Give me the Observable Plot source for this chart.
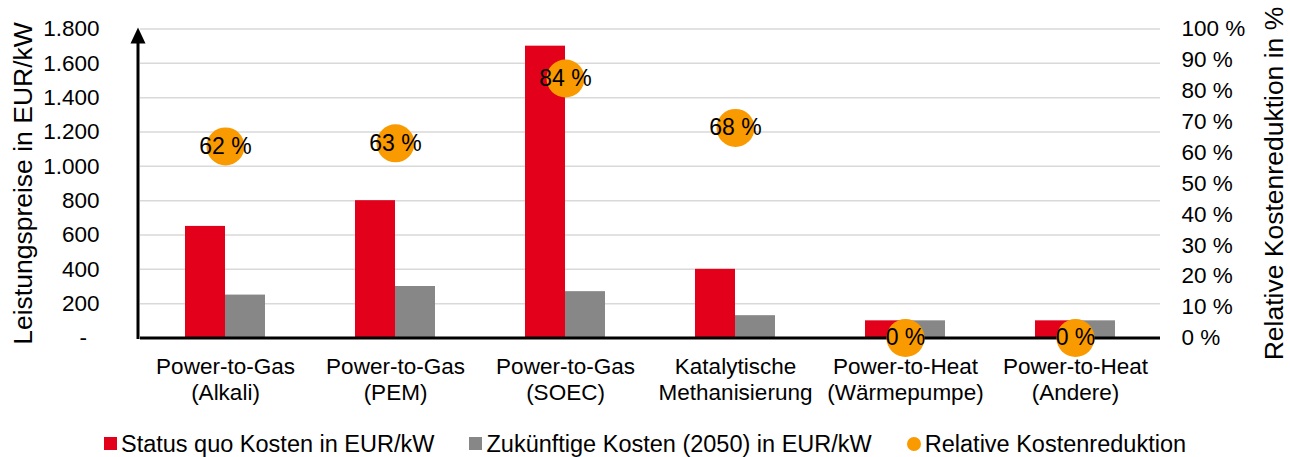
<!DOCTYPE html>
<html>
<head>
<meta charset="utf-8">
<script src="https://cdn.jsdelivr.net/npm/d3@7"></script>
<script src="https://cdn.jsdelivr.net/npm/@observablehq/plot@0.6"></script>
<style>
  body { margin: 0; background: #fff; font-family: "Liberation Sans", Arial, sans-serif; }
  #legend { display: flex; justify-content: center; align-items: center; gap: 35px;
    height: 37px; padding-top: 10px; box-sizing: border-box; font-size: 23.5px; line-height: 24px; color: #000; }
  #legend .item { display: flex; align-items: center; }
  #legend .sw { width: 13px; height: 13px; margin-right: 4px; }
  #legend .dot { width: 14px; height: 14px; border-radius: 50%; margin-right: 4px; }
</style>
</head>
<body>
<div id="chart"></div>
<div id="legend"></div>
<script>
const categories = [
  "Power-to-Gas\n(Alkali)",
  "Power-to-Gas\n(PEM)",
  "Power-to-Gas\n(SOEC)",
  "Katalytische\nMethanisierung",
  "Power-to-Heat\n(Wärmepumpe)",
  "Power-to-Heat\n(Andere)"
];
const statusQuo = [650, 800, 1700, 400, 100, 100];
const future2050 = [250, 300, 270, 130, 100, 100];
const reduction = [62, 63, 84, 68, 0, 0];
const seriesNames = ["Status quo Kosten in EUR/kW", "Zukünftige Kosten (2050) in EUR/kW", "Relative Kostenreduktion"];
const seriesColors = ["#e2001a", "#878787", "#f99a00"];
const leftTicks = [0, 200, 400, 600, 800, 1000, 1200, 1400, 1600, 1800];
const rightTicks = [0, 10, 20, 30, 40, 50, 60, 70, 80, 90, 100];
const leftMax = 1800, rightMax = 100;
const k = leftMax / rightMax;

const bars = [];
categories.forEach((c, i) => {
  bars.push({cat: c, series: seriesNames[0], value: statusQuo[i]});
  bars.push({cat: c, series: seriesNames[1], value: future2050[i]});
});
const dots = categories.map((c, i) => ({cat: c, pct: reduction[i]}));

const fmtDE = d => d === 0 ? "-\u00a0\u00a0" : d3.format(",")(d).replace(/,/g, ".");

const plot = Plot.plot({
  width: 1290,
  height: 420,
  marginLeft: 138,
  marginRight: 128,
  marginTop: 28.5,
  marginBottom: 82.5,
  style: {fontFamily: "'Liberation Sans', Arial, sans-serif", fontSize: "22.5px", color: "#000", background: "#fff"},
  fx: {domain: categories, padding: 0, label: null},
  x: {domain: seriesNames.slice(0, 2), paddingInner: 0, paddingOuter: 1.08, axis: null},
  y: {domain: [0, leftMax], axis: null},
  color: {domain: seriesNames, range: seriesColors},
  marks: [
    Plot.gridY(leftTicks, {stroke: "#d9d9d9", strokeOpacity: 1, strokeWidth: 1.5}),
    Plot.barY(bars, {fx: "cat", x: "series", y: "value", fill: "series"}),
    Plot.ruleY([0], {stroke: "#000", strokeWidth: 3}),
    Plot.dot(dots, {fx: "cat", y: d => d.pct * k, r: 19, fill: seriesColors[2], stroke: null}),
    Plot.text(dots, {fx: "cat", y: d => d.pct * k, text: d => d.pct + " %", fill: "#000", fontSize: 23}),
    Plot.axisY(leftTicks, {anchor: "left", tickSize: 0, tickPadding: 41, tickFormat: fmtDE,
      label: "Leistungspreise in EUR/kW", labelAnchor: "center", labelOffset: 127, labelArrow: "none"}),
    Plot.axisY(rightTicks.map(t => t * k), {anchor: "right", tickSize: 0, tickPadding: 21,
      tickFormat: d => Math.round(d / k) + " %",
      label: "Relative Kostenreduktion in %", labelAnchor: "center", labelOffset: 122, labelArrow: "none"}),
    Plot.axisFx({anchor: "bottom", tickSize: 0, tickPadding: 17, lineHeight: 1.18, label: null})
  ]
});

document.getElementById("chart").appendChild(plot);

// axis titles size
d3.select(plot).selectAll("g[aria-label='y-axis label'] text").style("font-size", "26.5px");

// left axis line with arrow head
const ys = plot.scale("y");
const x0 = 138;
const yTop = ys.apply(leftMax);
const yBot = ys.apply(0);
const svg = d3.select(plot);
svg.append("line").attr("x1", x0).attr("x2", x0).attr("y1", yBot + 1.5).attr("y2", yTop + 12)
  .attr("stroke", "#000").attr("stroke-width", 3);
svg.append("path").attr("d", `M${x0},${yTop - 1}L${x0 + 7.5},${yTop + 15}L${x0 - 7.5},${yTop + 15}Z`).attr("fill", "#000");

// legend
const legend = d3.select("#legend");
seriesNames.forEach((name, i) => {
  const it = legend.append("div").attr("class", "item");
  it.append("div").attr("class", i === 2 ? "dot" : "sw").style("background", seriesColors[i]);
  it.append("span").text(name);
});
</script>
</body>
</html>
